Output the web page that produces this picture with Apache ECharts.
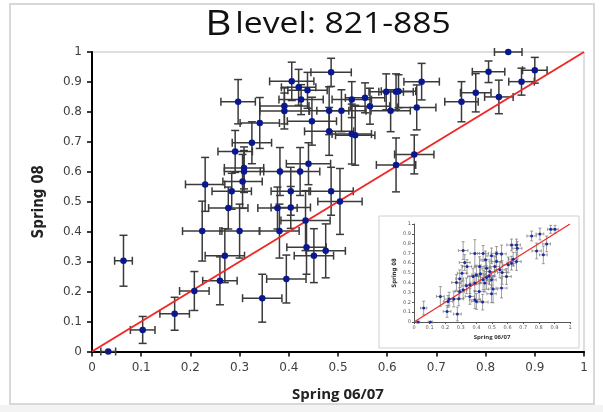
<!DOCTYPE html>
<html>
<head>
<meta charset="utf-8">
<script src="https://cdn.jsdelivr.net/npm/echarts@6/dist/echarts.min.js"></script>
<style>
  html, body { margin: 0; padding: 0; background: #fff; }
  #chart { width: 603px; height: 412px; }
</style>
</head>
<body>
<div id="chart"></div>
<script>
// main scatter: Spring 06/07 (x) vs Spring 08 (y), with +/- errors
var mainX = [0.846, 0.900, 0.806, 0.873, 0.780, 0.751, 0.827, 0.486, 0.670, 0.406,
  0.420, 0.438, 0.425, 0.528, 0.555, 0.598, 0.618, 0.623, 0.565, 0.607,
  0.660, 0.482, 0.507, 0.447, 0.482, 0.528, 0.535, 0.391, 0.391, 0.297,
  0.341, 0.325, 0.291, 0.309, 0.309, 0.382, 0.423, 0.440, 0.230, 0.306,
  0.284, 0.404, 0.486, 0.277, 0.377, 0.404, 0.224, 0.300, 0.381, 0.434,
  0.436, 0.451, 0.475, 0.270, 0.064, 0.260, 0.395, 0.346, 0.208, 0.168,
  0.103, 0.033, 0.504, 0.618, 0.655];
var mainY = [1.000, 0.939, 0.934, 0.901, 0.864, 0.834, 0.850, 0.932, 0.901, 0.902,
  0.882, 0.872, 0.841, 0.841, 0.847, 0.867, 0.867, 0.869, 0.819, 0.804,
  0.815, 0.804, 0.804, 0.769, 0.735, 0.726, 0.722, 0.820, 0.803, 0.834,
  0.763, 0.697, 0.668, 0.613, 0.601, 0.601, 0.601, 0.627, 0.558, 0.568,
  0.535, 0.535, 0.535, 0.479, 0.479, 0.481, 0.402, 0.402, 0.402, 0.437,
  0.348, 0.320, 0.336, 0.320, 0.303, 0.236, 0.242, 0.178, 0.202, 0.126,
  0.072, 0.000, 0.501, 0.623, 0.658];
var mainXErr = [0.028, 0.025, 0.033, 0.026, 0.031, 0.034, 0.029, 0.041, 0.036, 0.045,
  0.035, 0.040, 0.045, 0.040, 0.040, 0.035, 0.035, 0.035, 0.040, 0.040,
  0.039, 0.040, 0.050, 0.050, 0.050, 0.040, 0.040, 0.050, 0.050, 0.035,
  0.040, 0.040, 0.035, 0.040, 0.040, 0.040, 0.040, 0.045, 0.040, 0.040,
  0.040, 0.040, 0.045, 0.040, 0.040, 0.040, 0.040, 0.040, 0.040, 0.050,
  0.040, 0.040, 0.040, 0.040, 0.018, 0.035, 0.040, 0.040, 0.030, 0.030,
  0.025, 0.015, 0.045, 0.040, 0.040];
var mainYErr = [0, 0.043, 0.036, 0.045, 0.064, 0.067, 0.056, 0.047, 0.061, 0.064,
  0.060, 0.060, 0.050, 0.060, 0.050, 0.060, 0.060, 0.055, 0.060, 0.070,
  0.075, 0.080, 0.070, 0.080, 0.080, 0.100, 0.100, 0.060, 0.060, 0.074,
  0.085, 0.070, 0.070, 0.070, 0.070, 0.080, 0.080, 0.070, 0.090, 0.090,
  0.060, 0.080, 0.080, 0.070, 0.070, 0.070, 0.100, 0.090, 0.090, 0.100,
  0.090, 0.090, 0.090, 0.090, 0.085, 0.080, 0.080, 0.080, 0.065, 0.055,
  0.045, 0, 0.110, 0.090, 0.065];

// small inset chart (bottom right)
var insetX = [0.026, 0.105, 0.062, 0.169, 0.218, 0.225, 0.212, 0.255, 0.278, 0.287,
  0.272, 0.293, 0.308, 0.315, 0.325, 0.340, 0.293, 0.315, 0.336, 0.358,
  0.390, 0.400, 0.440, 0.390, 0.420, 0.426, 0.443, 0.465, 0.454, 0.486,
  0.497, 0.507, 0.443, 0.458, 0.497, 0.529, 0.561, 0.529, 0.550, 0.565,
  0.482, 0.400, 0.390, 0.625, 0.604, 0.636, 0.625, 0.657, 0.662, 0.657,
  0.754, 0.807, 0.786, 0.829, 0.850, 0.876, 0.904, 0.593, 0.561, 0.497,
  0.418, 0.358, 0.379, 0.465, 0.518];
var insetY = [0, 0, 0.142, 0.261, 0.210, 0.234, 0.108, 0.234, 0.081, 0.237,
  0.403, 0.441, 0.498, 0.729, 0.607, 0.566, 0.312, 0.329, 0.369, 0.261,
  0.227, 0.210, 0.203, 0.700, 0.566, 0.492, 0.430, 0.454, 0.397, 0.515,
  0.430, 0.336, 0.700, 0.634, 0.675, 0.700, 0.695, 0.617, 0.532, 0.505,
  0.470, 0.480, 0.397, 0.600, 0.583, 0.641, 0.786, 0.786, 0.752, 0.617,
  0.878, 0.898, 0.725, 0.685, 0.797, 0.946, 0.946, 0.464, 0.346, 0.288,
  0.312, 0.380, 0.464, 0.549, 0.566];
var insetXErr = [0.01, 0.015, 0.02, 0.025, 0.03, 0.03, 0.025, 0.03, 0.025, 0.03,
  0.03, 0.025, 0.03, 0.03, 0.035, 0.03, 0.03, 0.025, 0.03, 0.03,
  0.035, 0.03, 0.035, 0.03, 0.03, 0.035, 0.03, 0.04, 0.03, 0.035,
  0.03, 0.03, 0.035, 0.03, 0.03, 0.035, 0.03, 0.03, 0.035, 0.03,
  0.035, 0.03, 0.03, 0.03, 0.035, 0.03, 0.03, 0.025, 0.03, 0.03,
  0.03, 0.025, 0.03, 0.025, 0.025, 0.02, 0.02, 0.03, 0.035, 0.03,
  0.03, 0.03, 0.035, 0.03, 0.03];
var insetYErr = [0, 0, 0.07, 0.1, 0.06, 0.07, 0.06, 0.08, 0.07, 0.07,
  0.08, 0.09, 0.08, 0.09, 0.08, 0.07, 0.08, 0.09, 0.08, 0.08,
  0.09, 0.08, 0.08, 0.14, 0.1, 0.09, 0.1, 0.12, 0.09, 0.1,
  0.08, 0.14, 0.08, 0.09, 0.08, 0.07, 0.09, 0.1, 0.08, 0.12,
  0.09, 0.1, 0.08, 0.07, 0.08, 0.07, 0.06, 0.06, 0.07, 0.09,
  0.05, 0.06, 0.08, 0.09, 0.08, 0.04, 0.04, 0.08, 0.1, 0.09,
  0.08, 0.09, 0.08, 0.09, 0.1];

var diagonal = [[0, 0], [1, 1]];

function rows(xs, ys, exs, eys) {
  return xs.map(function (x, i) { return [x, ys[i], exs[i], eys[i]]; });
}
var mainData = rows(mainX, mainY, mainXErr, mainYErr);
var insetData = rows(insetX, insetY, insetXErr, insetYErr);

// draws the x and y whiskers with caps
function errorBars(cap, width, color) {
  return function (params, api) {
    var x = api.value(0), y = api.value(1), ex = api.value(2), ey = api.value(3);
    var st = { stroke: color, lineWidth: width };
    var kids = [];
    if (ex > 0) {
      var l = api.coord([x - ex, y]), r = api.coord([x + ex, y]);
      kids.push({ type: 'line', shape: { x1: l[0], y1: l[1], x2: r[0], y2: r[1] }, style: st });
      kids.push({ type: 'line', shape: { x1: l[0], y1: l[1] - cap, x2: l[0], y2: l[1] + cap }, style: st });
      kids.push({ type: 'line', shape: { x1: r[0], y1: r[1] - cap, x2: r[0], y2: r[1] + cap }, style: st });
    }
    if (ey > 0) {
      var t = api.coord([x, y + ey]), b = api.coord([x, y - ey]);
      kids.push({ type: 'line', shape: { x1: t[0], y1: t[1], x2: b[0], y2: b[1] }, style: st });
      kids.push({ type: 'line', shape: { x1: t[0] - cap, y1: t[1], x2: t[0] + cap, y2: t[1] }, style: st });
      kids.push({ type: 'line', shape: { x1: b[0] - cap, y1: b[1], x2: b[0] + cap, y2: b[1] }, style: st });
    }
    return { type: 'group', children: kids };
  };
}

var chart = echarts.init(document.getElementById('chart'));

var narrowFont = "'Liberation Sans Narrow', 'DejaVu Sans Condensed', 'Liberation Sans', sans-serif";
var mainAxisLabel = { color: '#404040', fontSize: 12, fontFamily: 'DejaVu Sans', margin: 10 };
var insetAxisLabel = { color: '#555', fontSize: 5, fontFamily: 'DejaVu Sans', margin: 3 };

var option = {
  animation: false,
  backgroundColor: '#fff',
  graphic: [
    { type: 'rect', z: -10, shape: { x: 10, y: 4, width: 584, height: 400 },
      style: { fill: 'none', stroke: '#d8d8d8', lineWidth: 2 } },
    { type: 'rect', z: -10, shape: { x: 0, y: 405, width: 603, height: 7 },
      style: { fill: '#f3f3f3' } },
    // title, a little wider than the font draws it
    { type: 'text', x: 328, y: 25, scaleX: 1.16, z: 10,
      style: {
        text: '{b|B} {r|level: 821-885}',
        align: 'center', verticalAlign: 'middle',
        rich: {
          b: { fontFamily: 'Open Sans', fontSize: 35, fill: '#111' },
          r: { fontFamily: 'Open Sans', fontSize: 29, fill: '#111' }
        }
      } },
    { type: 'rect', z: 5, shape: { x: 379, y: 216, width: 200, height: 132 },
      style: { fill: '#fff', stroke: '#cfcfcf', lineWidth: 1 } }
  ],
  grid: [
    { left: 92, right: 19, top: 52, bottom: 60.5, show: true, borderColor: '#bdbdbd', borderWidth: 1 },
    { left: 414, width: 156, top: 224, height: 98, z: 6 }
  ],
  xAxis: [
    {
      type: 'value', min: 0, max: 1, interval: 0.1, gridIndex: 0,
      name: 'Spring 06/07', nameLocation: 'middle', nameGap: 36,
      nameTextStyle: { fontFamily: 'Open Sans', fontWeight: 'bold', fontSize: 15, color: '#222' },
      axisLine: { lineStyle: { color: '#000', width: 2 } },
      axisTick: { length: 5, lineStyle: { color: '#000', width: 1.5 } },
      axisLabel: mainAxisLabel,
      splitLine: { show: false }
    },
    {
      type: 'value', min: 0, max: 1, interval: 0.1, gridIndex: 1, z: 6,
      name: 'Spring 06/07', nameLocation: 'middle', nameGap: 12,
      nameTextStyle: { fontFamily: 'Open Sans', fontWeight: 'bold', fontSize: 6, color: '#333' },
      axisLine: { lineStyle: { color: '#555', width: 1 } },
      axisTick: { length: 2, lineStyle: { color: '#555' } },
      axisLabel: insetAxisLabel,
      splitLine: { show: false }
    }
  ],
  yAxis: [
    {
      type: 'value', min: 0, max: 1, interval: 0.1, gridIndex: 0,
      name: 'Spring 08', nameLocation: 'middle', nameGap: 45,
      nameTextStyle: { fontFamily: narrowFont, fontWeight: 'bold', fontSize: 15, color: '#222' },
      axisLine: { lineStyle: { color: '#000', width: 2 } },
      axisTick: { length: 5, lineStyle: { color: '#000', width: 1.5 } },
      axisLabel: mainAxisLabel,
      splitLine: { show: false }
    },
    {
      type: 'value', min: 0, max: 1, interval: 0.1, gridIndex: 1, z: 6,
      name: 'Spring 08', nameLocation: 'middle', nameGap: 17,
      nameTextStyle: { fontFamily: narrowFont, fontWeight: 'bold', fontSize: 6, color: '#333' },
      axisLine: { lineStyle: { color: '#555', width: 1 } },
      axisTick: { length: 2, lineStyle: { color: '#555' } },
      axisLabel: insetAxisLabel,
      splitLine: { show: false }
    }
  ],
  series: [
    {
      type: 'custom', xAxisIndex: 0, yAxisIndex: 0, z: 2,
      renderItem: errorBars(4, 1.5, '#3a3a3a'),
      encode: { x: 0, y: 1 },
      data: mainData
    },
    {
      type: 'line', xAxisIndex: 0, yAxisIndex: 0, z: 3,
      data: diagonal, symbol: 'none',
      lineStyle: { color: '#f02828', width: 2 }
    },
    {
      type: 'scatter', xAxisIndex: 0, yAxisIndex: 0, z: 4,
      symbolSize: 6.5,
      itemStyle: { color: '#0a1890', opacity: 1 },
      data: mainData.map(function (d) { return [d[0], d[1]]; })
    },
    {
      type: 'custom', xAxisIndex: 1, yAxisIndex: 1, z: 7,
      renderItem: errorBars(1.5, 0.7, '#777'),
      encode: { x: 0, y: 1 },
      data: insetData
    },
    {
      type: 'line', xAxisIndex: 1, yAxisIndex: 1, z: 8,
      data: diagonal, symbol: 'none',
      lineStyle: { color: '#f02828', width: 1.2 }
    },
    {
      type: 'scatter', xAxisIndex: 1, yAxisIndex: 1, z: 9,
      symbolSize: 3,
      itemStyle: { color: '#1a2aa0', opacity: 1 },
      data: insetData.map(function (d) { return [d[0], d[1]]; })
    }
  ]
};

chart.setOption(option);
</script>
</body>
</html>
